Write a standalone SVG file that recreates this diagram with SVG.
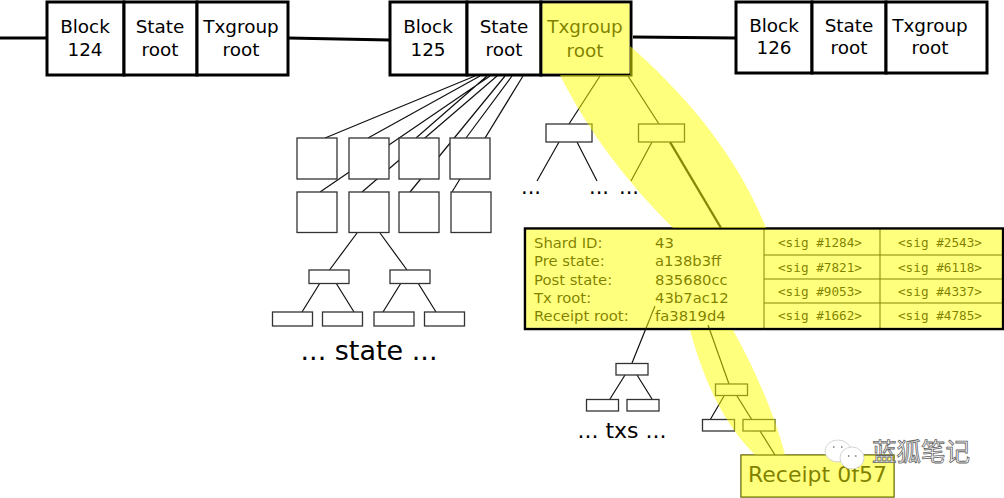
<svg xmlns="http://www.w3.org/2000/svg" width="1004" height="498" viewBox="0 0 1004 498">
<style>
text{font-family:"DejaVu Sans",sans-serif;fill:#000}
.b{fill:#fff;stroke:#000;stroke-width:3}
.s{fill:#fff;stroke:#333;stroke-width:1.3}
.c{fill:none;stroke:#111;stroke-width:1.2}
.h{fill:none;stroke:#000;stroke-width:3}
.t{font-size:18.400px;text-anchor:middle}
.l{font-size:14.800px}
.m{font-family:"DejaVu Sans Mono",monospace;font-size:12.700px;text-anchor:middle}
.d{font-size:21px;text-anchor:middle}
</style>
<g id="connectors">
<path class="h" d="M0 38H47M288 38L390 40M633 37L736 38"/>
<path class="c" d="M475 76L325 138M480 76L368 138M490 76L320 192M497 76L362 192M487 76L416 138M505 76L410 192M512 76L466 138M523 76L452 192"/>
<path class="c" d="M357 233L329.500 270M380 233L407 270M320 283L302 312M336 283L354 312M401 283L383 312M418 283L436 312"/>
<path class="c" d="M600 76L569 124M628 76L659 124M559 142L537 181M577 142L597 181M652 142L631 181"/>
<path fill="none" stroke="#111" stroke-width="2.400" d="M670 142L721 228"/>
<path class="c" d="M625 375L610 399M637 375L652 399M724 396L710 420M737 396L752 420M760 431L775 455"/>
</g>
<g id="block-124"><rect class="b" x="47" y="2" width="77" height="73"/><text class="t" x="85" y="33">Block</text><text class="t" x="85" y="56">124</text></g>
<g id="state-124"><rect class="b" x="124" y="2" width="73" height="73"/><text class="t" x="160" y="33">State</text><text class="t" x="160" y="56">root</text></g>
<g id="tx-124"><rect class="b" x="197" y="2" width="91" height="73"/><text class="t" x="241" y="33">Txgroup</text><text class="t" x="241" y="56">root</text></g>
<g id="block-125"><rect class="b" x="390" y="2" width="77" height="73"/><text class="t" x="428" y="33">Block</text><text class="t" x="428" y="56">125</text></g>
<g id="state-125"><rect class="b" x="467" y="2" width="74" height="73"/><text class="t" x="504" y="33">State</text><text class="t" x="504" y="56">root</text></g>
<g id="tx-125"><rect class="b" x="541" y="2" width="90" height="73"/><text class="t" x="585" y="33">Txgroup</text><text class="t" x="585" y="57">root</text></g>
<g id="block-126"><rect class="b" x="736" y="2" width="76" height="71"/><text class="t" x="774" y="32">Block</text><text class="t" x="774" y="54">126</text></g>
<g id="state-126"><rect class="b" x="812" y="2" width="74" height="71"/><text class="t" x="849" y="32">State</text><text class="t" x="849" y="54">root</text></g>
<g id="tx-126"><rect class="b" x="886" y="2" width="101" height="71"/><text class="t" x="930" y="32">Txgroup</text><text class="t" x="930" y="54">root</text></g>
<g id="state-squares">
<rect class="s" x="297" y="138" width="40" height="41"/><rect class="s" x="349" y="138" width="40" height="41"/><rect class="s" x="399" y="138" width="40" height="41"/><rect class="s" x="450" y="138" width="40" height="41"/>
<rect class="s" x="297" y="192" width="40" height="40.500"/><rect class="s" x="349" y="192" width="40" height="40.500"/><rect class="s" x="399" y="192" width="40" height="40.500"/><rect class="s" x="451" y="192" width="40" height="40.500"/>
</g>
<g id="state-tree">
<rect class="s" x="309" y="270" width="40" height="13.500"/><rect class="s" x="390" y="270" width="40" height="13.500"/>
<rect class="s" x="272.500" y="312" width="40" height="14"/><rect class="s" x="322.500" y="312" width="40" height="14"/><rect class="s" x="374" y="312" width="40" height="14"/><rect class="s" x="424.500" y="312" width="40" height="14"/>
<text x="369" y="360" font-size="27" text-anchor="middle">... state ...</text>
</g>
<g id="txgroup-tree">
<rect class="s" x="546" y="124" width="46" height="18"/><rect class="s" x="638.500" y="124" width="46" height="18"/>
<text class="d" x="531" y="194">...</text><text class="d" x="599" y="194">...</text><text class="d" x="629" y="194">...</text>
</g>
<g id="shard-header">
<rect x="525" y="228.500" width="478" height="100.500" fill="#fff" stroke="#000" stroke-width="2.500"/>
<path fill="none" stroke="#111" stroke-width="1" d="M764 229V329M880 229V329M764 255H1003M764 279H1003M764 303H1003"/>
<g class="l"><text x="534" y="248">Shard ID:</text><text x="534" y="266">Pre state:</text><text x="534" y="285">Post state:</text><text x="534" y="303">Tx root:</text><text x="534" y="321">Receipt root:</text>
<text x="655" y="248">43</text><text x="655" y="266">a138b3ff</text><text x="655" y="285">835680cc</text><text x="655" y="303">43b7ac12</text><text x="655" y="321">fa3819d4</text></g>
<text class="m" x="820" y="247">&lt;sig #1284&gt;</text><text class="m" x="940" y="247">&lt;sig #2543&gt;</text>
<text class="m" x="820" y="272">&lt;sig #7821&gt;</text><text class="m" x="940" y="272">&lt;sig #6118&gt;</text>
<text class="m" x="820" y="296">&lt;sig #9053&gt;</text><text class="m" x="940" y="296">&lt;sig #4337&gt;</text>
<text class="m" x="820" y="320">&lt;sig #1662&gt;</text><text class="m" x="940" y="320">&lt;sig #4785&gt;</text>
</g>
<g id="header-connectors">
<path class="c" d="M655 306L632 363M708 325L729 384"/>
</g>
<g id="tx-tree">
<rect class="s" x="616" y="363.500" width="32" height="11.500"/><rect class="s" x="586.500" y="399.500" width="32" height="11.500"/><rect class="s" x="627" y="399.500" width="32" height="11.500"/>
<text x="622" y="438" font-size="22" text-anchor="middle">... txs ...</text>
</g>
<g id="receipt-tree">
<rect class="s" x="715.500" y="384" width="32" height="11.500"/><rect class="s" x="702.500" y="419.500" width="32" height="11.500"/><rect class="s" x="743" y="419.500" width="32" height="11.500"/>
</g>
<g id="receipt"><rect x="741" y="455" width="153" height="42" fill="#fff" stroke="#000" stroke-width="1.200"/><text x="748" y="482" font-size="22">Receipt 0f57</text></g>
<g id="highlight" fill="#ff0" opacity=".5">
<rect x="542.500" y="3.500" width="87" height="70"/>
<path d="M560 75C590 135 630 185 673 228L766 228C735 150 680 90 630 46V75Z"/>
<rect x="526.200" y="229.700" width="475.600" height="98"/>
<path d="M690 330C705 385 725 425 755 455H785C775 415 755 370 733 330Z"/>
<rect x="638" y="123.500" width="47" height="19"/>
<rect x="715" y="383.500" width="33" height="12.500"/>
<rect x="742.500" y="419" width="33" height="12.500"/>
<rect x="740.500" y="454.500" width="154" height="43"/>
</g>
<g id="watermark">
<ellipse cx="838" cy="451" rx="13" ry="11" fill="#fff" stroke="#ccc" stroke-width=".8"/>
<ellipse cx="852" cy="458" rx="12" ry="11" fill="#fff" stroke="#ccc" stroke-width=".8"/>
<path d="M833 447h1.500M841 447h1.500M848 456h1.500M855 456h1.500" stroke="#777" stroke-width="1.500" fill="none"/>
<text x="872" y="461" font-size="24.500" style="font-family:'Noto Sans CJK SC',sans-serif;fill:#fff;stroke:#666;stroke-width:.8">蓝狐笔记</text>
</g>
</svg>
